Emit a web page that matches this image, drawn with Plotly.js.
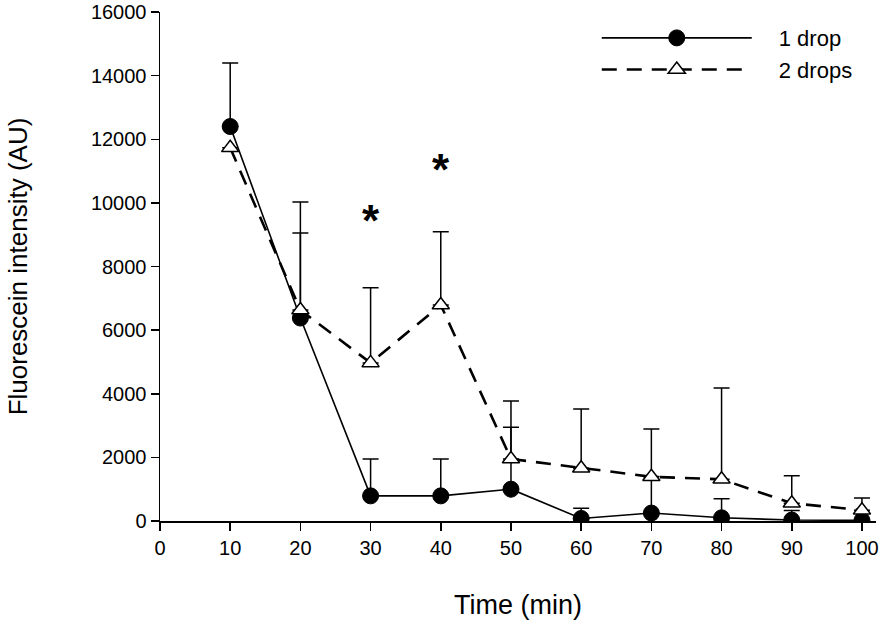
<!DOCTYPE html>
<html>
<head>
<meta charset="utf-8">
<script src="https://cdn.plot.ly/plotly-3.0.1.min.js"></script>
<style>html,body{margin:0;padding:0;background:#fff;}#chart{width:894px;height:627px;}</style>
</head>
<body>
<div id="chart"></div>
<script>
const time = [10, 20, 30, 40, 50, 60, 70, 80, 90, 100];
const oneDrop = [12400, 6380, 790, 790, 1000, 80, 250, 100, 30, 20];
const oneDropErr = [2000, 2670, 1160, 1160, 1950, 320, 1150, 600, 300, 0];
const twoDrops = [11730, 6630, 4970, 6790, 1950, 1660, 1390, 1310, 560, 340];
const twoDropsErr = [0, 3400, 2360, 2300, 1820, 1860, 1500, 2870, 860, 380];
const starX = [30, 40];
const starY = [9450, 11050];
const xTicks = [0, 10, 20, 30, 40, 50, 60, 70, 80, 90, 100];
const yTicks = [0, 2000, 4000, 6000, 8000, 10000, 12000, 14000, 16000];
const seriesNames = ['1 drop', '2 drops'];

const font = "Liberation Sans, Arial, sans-serif";
const pad = '\u2002\u2002';

const traces = [
  {
    x: time, y: oneDrop, name: pad + seriesNames[0], type: 'scatter', mode: 'lines+markers',
    line: {color: '#000', width: 1.6, dash: 'solid'},
    marker: {symbol: 'circle', size: 16, color: '#000', line: {color: '#000', width: 1}},
    error_y: {type: 'data', symmetric: false, array: oneDropErr, arrayminus: oneDrop.map(() => 0), color: '#000', thickness: 1.5, width: 8}
  },
  {
    x: time, y: twoDrops, name: pad + seriesNames[1], type: 'scatter', mode: 'lines+markers',
    line: {color: '#000', width: 2.6, dash: '15px,10px'},
    marker: {symbol: 'triangle-up', size: 15, color: '#fff', line: {color: '#000', width: 1.5}},
    error_y: {type: 'data', symmetric: false, array: twoDropsErr, arrayminus: twoDrops.map(() => 0), color: '#000', thickness: 1.5, width: 8}
  }
];

const annotations = starX.map((x, i) => ({
  x: x, y: starY[i], xref: 'x', yref: 'y', text: '<b>*</b>', showarrow: false,
  font: {family: font, size: 44, color: '#000'}, yanchor: 'middle'
}));

const layout = {
  width: 894, height: 627,
  margin: {l: 160, r: 18, t: 12, b: 106},
  paper_bgcolor: '#fff', plot_bgcolor: '#fff',
  font: {family: font, color: '#000', size: 20},
  showlegend: true,
  legend: {
    x: 0.61, y: 0.99, xanchor: 'left', yanchor: 'top',
    itemwidth: 150, font: {family: font, size: 22, color: '#000'},
    bgcolor: 'rgba(0,0,0,0)', tracegroupgap: 0, itemsizing: 'trace'
  },
  xaxis: {
    range: [0, 102], tickvals: xTicks, ticktext: xTicks.map(String),
    showgrid: false, zeroline: false, showline: true, linecolor: '#000', linewidth: 1.5,
    ticks: 'outside', ticklen: 8, tickwidth: 1.5, tickcolor: '#000',
    tickfont: {family: font, size: 20, color: '#000'},
    title: {text: 'Time (min)', font: {family: font, size: 27, color: '#000'}, standoff: 37}
  },
  yaxis: {
    range: [0, 16000], tickvals: yTicks, ticktext: yTicks.map(String),
    showgrid: false, zeroline: false, showline: true, linecolor: '#000', linewidth: 1.5,
    ticks: 'outside', ticklen: 8, tickwidth: 1.5, tickcolor: '#000',
    tickfont: {family: font, size: 20, color: '#000'},
    title: {text: 'Fluorescein intensity (AU)', font: {family: font, size: 26, color: '#000'}, standoff: 56}
  },
  annotations: annotations
};

Plotly.newPlot('chart', traces, layout, {displayModeBar: false, staticPlot: true});
</script>
</body>
</html>
